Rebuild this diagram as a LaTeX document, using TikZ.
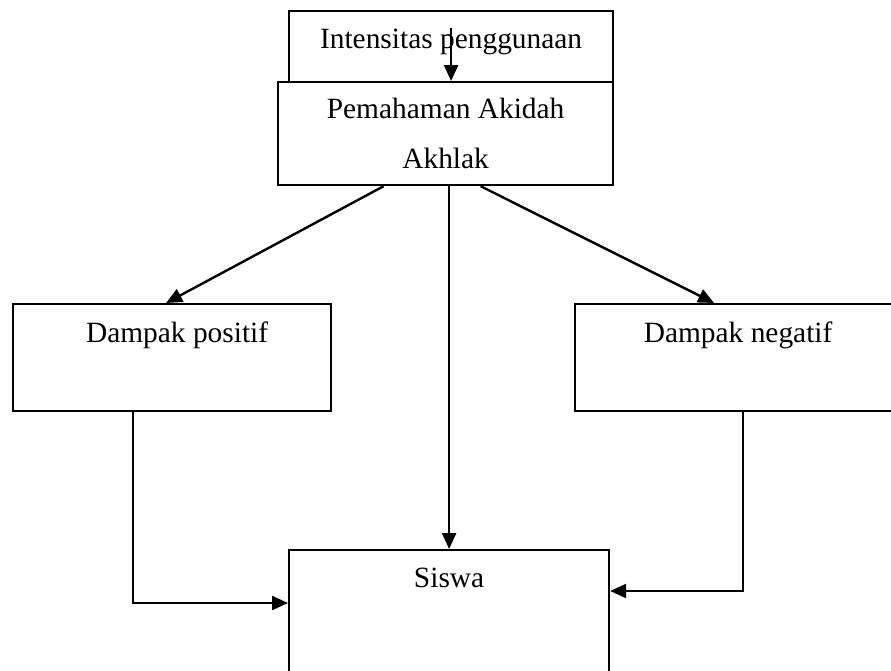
\documentclass[tikz,border=0pt]{standalone}
\usepackage{fontspec}
\setmainfont{Liberation Serif}
\usepackage{tikz}
\usetikzlibrary{arrows.meta, positioning, calc}

\begin{document}
\begin{tikzpicture}[
  x=1pt, y=-1pt,
  box/.style={draw, line width=2.2pt, fill=white, inner sep=0pt, anchor=north west},
  lbl/.style={font=\fontsize{29.4}{50}\selectfont, align=center, anchor=base, inner sep=0pt},
  arr/.style={-{Triangle[length=16pt, width=14pt]}, line width=2.4pt}
]
  \useasboundingbox (0,0) rectangle (891,670);
  \clip (0,0) rectangle (891,670);
  \fill[white] (0,0) rectangle (891,670);

  % Boxes
  \node[box, minimum width=324pt, minimum height=100pt] (intens) at (288,10) {};
  \node[box, minimum width=335pt, minimum height=103pt] (pem) at (277,81) {};
  \node[box, minimum width=318pt, minimum height=107pt] (pos) at (12,303) {};
  \node[box, minimum width=326pt, minimum height=107pt] (neg) at (574,303) {};
  \node[box, minimum width=320pt, minimum height=160pt] (siswa) at (288,549) {};

  % Labels
  \node[lbl] at ($(intens.north)+(0,38)$) {Intensitas penggunaan};
  \node[lbl] at ($(pem.north)+(0,87)$) {Pemahaman Akidah\\Akhlak};
  \node[lbl] at ($(pos.north)+(5,39)$) {Dampak positif};
  \node[lbl] at ($(neg.north)+(0,39)$) {Dampak negatif};
  \node[lbl] at ($(siswa.north)+(0,38)$) {Siswa};

  % wires
  \coordinate (istart) at ($(intens.north)+(0,18)$);
  \draw[arr] (istart) -- (istart |- pem.north);
  \draw[arr] ($(pem.south)+(-62,0)$) -- ($(pos.north)+(-6,0)$);
  \draw[arr] ($(pem.south)+(35,0)$) -- ($(neg.north)+(-24,0)$);
  \draw[arr] (siswa.north |- pem.south) -- (siswa.north);
  \draw[arr] ($(pos.south)+(-39,0)$) |- ($(siswa.north west)+(0,54)$);
  \draw[arr] ($(neg.south)+(5,0)$) |- ($(siswa.north east)+(0,42)$);
\end{tikzpicture}
\end{document}
